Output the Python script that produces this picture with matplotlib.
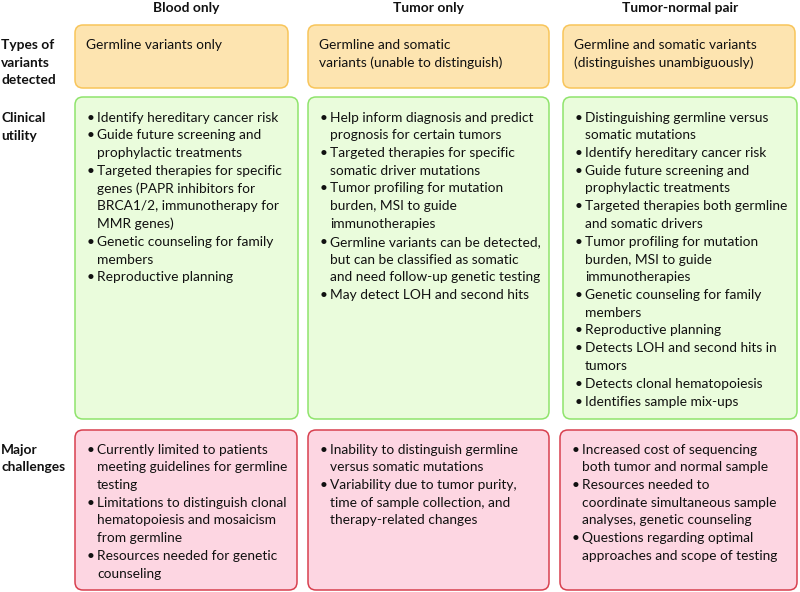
import matplotlib
matplotlib.use("Agg")
import matplotlib.pyplot as plt
from matplotlib.patches import FancyBboxPatch

plt.rcParams['font.family'] = ['Lato', 'DejaVu Sans']

# table content
columns = ["Blood only", "Tumor only", "Tumor-normal pair"]
row_labels = ["Types of\nvariants\ndetected", "Clinical\nutility", "Major\nchallenges"]

variants_detected = [
    "Germline variants only",
    "Germline and somatic\nvariants (unable to distinguish)",
    "Germline and somatic variants\n(distinguishes unambiguously)",
]

utility_blood = [
    "Identify hereditary cancer risk",
    "Guide future screening and\nprophylactic treatments",
    "Targeted therapies for specific\ngenes (PAPR inhibitors for\nBRCA1/2, immunotherapy for\nMMR genes)",
    "Genetic counseling for family\nmembers",
    "Reproductive planning",
]
utility_tumor = [
    "Help inform diagnosis and predict\nprognosis for certain tumors",
    "Targeted therapies for specific\nsomatic driver mutations",
    "Tumor profiling for mutation\nburden, MSI to guide\nimmunotherapies",
    "Germline variants can be detected,\nbut can be classified as somatic\nand need follow-up genetic testing",
    "May detect LOH and second hits",
]
utility_pair = [
    "Distinguishing germline versus\nsomatic mutations",
    "Identify hereditary cancer risk",
    "Guide future screening and\nprophylactic treatments",
    "Targeted therapies both germline\nand somatic drivers",
    "Tumor profiling for mutation\nburden, MSI to guide\nimmunotherapies",
    "Genetic counseling for family\nmembers",
    "Reproductive planning",
    "Detects LOH and second hits in\ntumors",
    "Detects clonal hematopoiesis",
    "Identifies sample mix-ups",
]

challenges_blood = [
    "Currently limited to patients\nmeeting guidelines for germline\ntesting",
    "Limitations to distinguish clonal\nhematopoiesis and mosaicism\nfrom germline",
    "Resources needed for genetic\ncounseling",
]
challenges_tumor = [
    "Inability to distinguish germline\nversus somatic mutations",
    "Variability due to tumor purity,\ntime of sample collection, and\ntherapy-related changes",
]
challenges_pair = [
    "Increased cost of sequencing\nboth tumor and normal sample",
    "Resources needed to\ncoordinate simultaneous sample\nanalyses, genetic counseling",
    "Questions regarding optimal\napproaches and scope of testing",
]

# box geometry in pixels: (left, right) per column, (top, bottom) per row
row_spans = [(25, 88), (97, 419), (430, 590)]
col_spans = [
    [(75, 288), (308, 549), (563, 795)],
    [(75, 298), (308, 549), (563, 797)],
    [(75, 297), (308, 549), (560, 797)],
]
fills = ["#fde4b0", "#eafcdc", "#fdd6e2"]
edges = ["#f8c55a", "#8fe46c", "#d8404f"]

FS = 9.9
STEP = 17.75

fig = plt.figure(figsize=(8, 5.92), dpi=100)
ax = fig.add_axes([0, 0, 1, 1])
ax.set_xlim(0, 800)
ax.set_ylim(592, 0)
ax.axis('off')

# column headers
for c, name in enumerate(columns):
    x0, x1 = col_spans[1][c]
    ax.text((x0 + x1) / 2, 7, name, ha='center', va='center_baseline',
            fontsize=FS, fontweight='bold', color='#111111')

# row labels
label_y = [44, 117, 448.5]
for r, lab in enumerate(row_labels):
    for i, line in enumerate(lab.split("\n")):
        ax.text(1, label_y[r] + i * STEP, line, ha='left', va='center_baseline',
                fontsize=FS, fontweight='bold', color='#111111')

# boxes
for r, (y0, y1) in enumerate(row_spans):
    for c in range(3):
        x0, x1 = col_spans[r][c]
        box = FancyBboxPatch((x0, y0), x1 - x0, y1 - y0,
                             boxstyle="round,pad=0,rounding_size=8",
                             facecolor=fills[r], edgecolor=edges[r], linewidth=1.1)
        ax.add_patch(box)

# first row: plain text
for c, txt in enumerate(variants_detected):
    x0 = col_spans[0][c][0]
    for i, line in enumerate(txt.split("\n")):
        ax.text(x0 + 11, 44 + i * STEP, line, ha='left', va='center_baseline',
                fontsize=FS, color='#111111')


def draw_bullets(items, x0, y_first):
    y = y_first
    for item in items:
        ax.text(x0 + 16, y, "\u2022", ha='center', va='center_baseline',
                fontsize=FS, color='#111111')
        for line in item.split("\n"):
            ax.text(x0 + 22, y, line, ha='left', va='center_baseline',
                    fontsize=FS, color='#111111')
            y += STEP


for c, items in enumerate([utility_blood, utility_tumor, utility_pair]):
    draw_bullets(items, col_spans[1][c][0], 116.5)

for c, items in enumerate([challenges_blood, challenges_tumor, challenges_pair]):
    draw_bullets(items, col_spans[2][c][0], 448.5)

fig.savefig("out.png", dpi=100)
